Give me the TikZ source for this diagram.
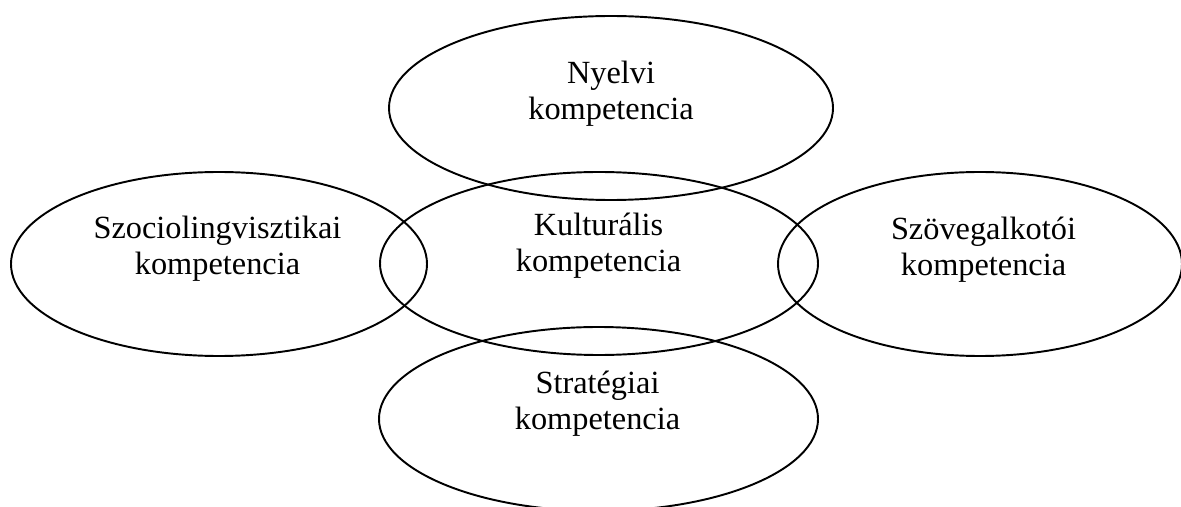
\documentclass[tikz,border=0pt]{standalone}
\usepackage{fontspec}
\setmainfont{Liberation Serif}
\usepackage{tikz}
\usetikzlibrary{shapes.geometric}

\tikzset{
  ovalis/.style={draw, ellipse, line width=1.1pt, inner sep=0pt, minimum height=3.68cm},
  felirat/.style={align=center, font=\fontsize{18.4}{20.6}\selectfont}
}

\begin{document}
\begin{tikzpicture}
\useasboundingbox (0,0) rectangle (23.62,-10.14);
% ellipszisek
\node [ovalis, minimum width=8.88cm] (nyelvi) at (12.22,-2.16) {};
\node [ovalis, minimum width=8.76cm, minimum height=3.66cm] (kulturalis) at (11.98,-5.27) {};
\node [ovalis, minimum width=8.32cm] (szocio) at (4.38,-5.28) {};
\node [ovalis, minimum width=8.08cm] (szoveg) at (19.6,-5.28) {};
\node [ovalis, minimum width=8.78cm] (strategiai) at (11.97,-8.38) {};
% feliratok
\node [felirat] (nyelvi-t) at (12.22,-1.87) {Nyelvi\\kompetencia};
\node [felirat] (kulturalis-t) at (11.97,-4.92) {Kulturális\\kompetencia};
\node [felirat] (szocio-t) at (4.35,-4.97) {Szociolingvisztikai\\kompetencia};
\node [felirat] (szoveg-t) at (19.67,-5.0) {Szövegalkotói\\kompetencia};
\node [felirat] (strategiai-t) at (11.95,-8.08) {Stratégiai\\kompetencia};
\end{tikzpicture}
\end{document}
